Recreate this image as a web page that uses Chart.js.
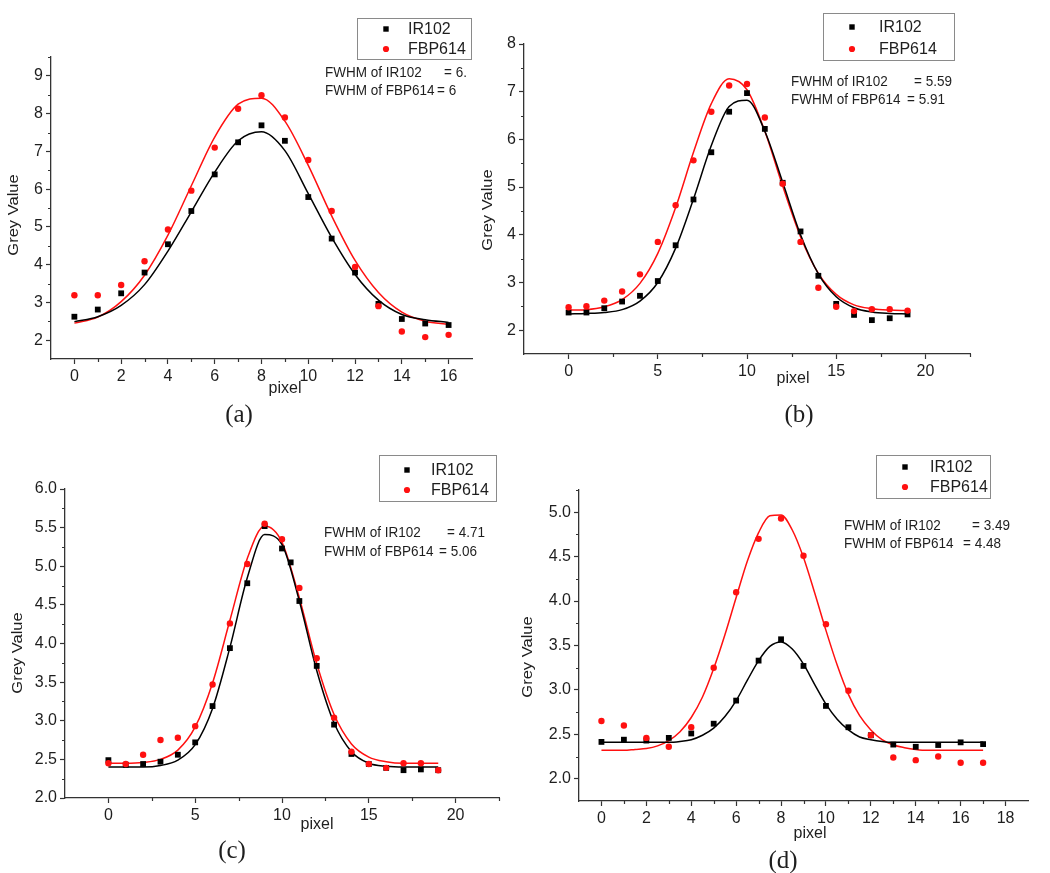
<!DOCTYPE html>
<html>
<head>
<meta charset="utf-8">
<title>Grey value profiles, IR102 vs FBP614</title>
<script src="https://cdn.jsdelivr.net/npm/chart.js@4.4.1/dist/chart.umd.min.js"></script>
<style>
  html, body { margin: 0; padding: 0; background: #fff; }
  #page { position: relative; width: 1050px; height: 873px; overflow: hidden; }
  #page canvas { position: absolute; }
</style>
</head>
<body>
<div id="page">
  <canvas id="chartA" width="505" height="440" style="left:0px;top:0px"></canvas>
  <canvas id="chartB" width="575" height="440" style="left:475px;top:0px"></canvas>
  <canvas id="chartC" width="505" height="433" style="left:0px;top:440px"></canvas>
  <canvas id="chartD" width="530" height="433" style="left:520px;top:440px"></canvas>
</div>
<script>
// ---- values ----

// (a)
const pixelA = [0, 1, 2, 3, 4, 5, 6, 7, 8, 9, 10, 11, 12, 13, 14, 15, 16];
const ir102A = [2.62, 2.81, 3.24, 3.79, 4.54, 5.42, 6.39, 7.24, 7.69, 7.28, 5.79, 4.69, 3.79, 2.96, 2.56, 2.44, 2.40];
const fbp614A = [3.19, 3.19, 3.46, 4.09, 4.93, 5.96, 7.10, 8.13, 8.49, 7.90, 6.77, 5.42, 3.94, 2.90, 2.23, 2.08, 2.14];
const fitIr102A = [2.49, 2.62, 2.92, 3.47, 4.36, 5.40, 6.45, 7.28, 7.52, 7.02, 5.88, 4.72, 3.74, 3.06, 2.68, 2.54, 2.47];
const fitFbp614A = [2.45, 2.61, 3.02, 3.72, 4.78, 6.09, 7.38, 8.25, 8.41, 7.80, 6.63, 5.29, 4.11, 3.26, 2.74, 2.50, 2.42];
const xTicksA = [0, 2, 4, 6, 8, 10, 12, 14, 16];
const xMinorA = [1, 3, 5, 7, 9, 11, 13, 15];
const yTicksA = [2, 3, 4, 5, 6, 7, 8, 9];
const yMinorA = [2.5, 3.5, 4.5, 5.5, 6.5, 7.5, 8.5, 9.5];
const fwhmA = ["FWHM of IR102", "= 6.", "FWHM of FBP614", "= 6"];

// (b)
const pixelB = [0, 1, 2, 3, 4, 5, 6, 7, 8, 9, 10, 11, 12, 13, 14, 15, 16, 17, 18, 19];
const ir102B = [2.37, 2.37, 2.46, 2.60, 2.72, 3.03, 3.78, 4.74, 5.73, 6.58, 6.97, 6.22, 5.09, 4.07, 3.14, 2.55, 2.32, 2.21, 2.25, 2.33];
const fbp614B = [2.48, 2.50, 2.62, 2.81, 3.17, 3.85, 4.62, 5.56, 6.58, 7.13, 7.16, 6.46, 5.07, 3.85, 2.89, 2.49, 2.40, 2.44, 2.44, 2.41];
const fitIr102B = [2.34, 2.35, 2.37, 2.43, 2.61, 3.00, 3.72, 4.75, 5.87, 6.69, 6.82, 6.17, 5.10, 4.00, 3.18, 2.70, 2.47, 2.38, 2.35, 2.34];
const fitFbp614B = [2.42, 2.43, 2.49, 2.64, 2.98, 3.61, 4.57, 5.73, 6.75, 7.27, 7.04, 6.17, 5.02, 3.96, 3.19, 2.75, 2.53, 2.45, 2.42, 2.41];
const xTicksB = [0, 5, 10, 15, 20];
const xMinorB = [2.5, 7.5, 12.5, 17.5, 22.5];
const yTicksB = [2, 3, 4, 5, 6, 7, 8];
const yMinorB = [2.5, 3.5, 4.5, 5.5, 6.5, 7.5];
const fwhmB = ["FWHM of IR102", "= 5.59", "FWHM of FBP614", "= 5.91"];

// (c)
const irPixelC = [0, 1, 2, 3, 4, 5, 6, 7, 8, 9, 10, 10.5, 11, 12, 13, 14, 15, 16, 17, 18, 19];
const ir102C = [2.49, 2.43, 2.44, 2.47, 2.56, 2.72, 3.19, 3.94, 4.78, 5.52, 5.23, 5.05, 4.55, 3.71, 2.95, 2.57, 2.44, 2.39, 2.36, 2.37, 2.36];
const pixelC = [0, 1, 2, 3, 4, 5, 6, 7, 8, 9, 10, 11, 12, 13, 14, 15, 16, 17, 18, 19];
const fbp614C = [2.45, 2.44, 2.56, 2.75, 2.78, 2.93, 3.47, 4.26, 5.03, 5.55, 5.35, 4.72, 3.81, 3.04, 2.60, 2.44, 2.39, 2.45, 2.45, 2.36];
const fitIr102C = [2.40, 2.40, 2.40, 2.42, 2.49, 2.69, 3.16, 3.95, 4.85, 5.41, 5.28, 4.55, 3.65, 2.97, 2.60, 2.45, 2.41, 2.40, 2.40, 2.40];
const fitFbp614C = [2.45, 2.45, 2.46, 2.50, 2.62, 2.92, 3.49, 4.30, 5.10, 5.52, 5.31, 4.59, 3.74, 3.08, 2.70, 2.53, 2.47, 2.45, 2.45, 2.45];
const xTicksC = [0, 5, 10, 15, 20];
const xMinorC = [2.5, 7.5, 12.5, 17.5, 22.5];
const yTicksC = [2.0, 2.5, 3.0, 3.5, 4.0, 4.5, 5.0, 5.5, 6.0];
const yMinorC = [2.25, 2.75, 3.25, 3.75, 4.25, 4.75, 5.25, 5.75];
const fwhmC = ["FWHM of IR102", "= 4.71", "FWHM of FBP614", "= 5.06"];

// (d)
const pixelD = [0, 1, 2, 3, 4, 5, 6, 7, 8, 9, 10, 11, 12, 13, 14, 15, 16, 17];
const ir102D = [2.415, 2.44, 2.43, 2.46, 2.51, 2.62, 2.88, 3.33, 3.57, 3.27, 2.82, 2.58, 2.49, 2.385, 2.36, 2.38, 2.41, 2.39];
const fbp614D = [2.65, 2.60, 2.46, 2.36, 2.58, 3.25, 4.10, 4.70, 4.93, 4.51, 3.74, 2.99, 2.49, 2.24, 2.21, 2.25, 2.18, 2.18];
const fitPixelD = [0, 0.5, 1, 1.5, 2, 2.5, 3, 3.5, 4, 4.5, 5, 5.5, 6, 6.5, 7, 7.5, 8, 8.5,
  9, 9.5, 10, 10.5, 11, 11.5, 12, 12.5, 13, 13.5, 14, 14.5, 15, 15.5, 16, 16.5, 17];
const fitIr102D = [2.41, 2.41, 2.41, 2.41, 2.41, 2.41, 2.41, 2.42, 2.44, 2.49, 2.57, 2.70, 2.88, 3.11, 3.33, 3.49, 3.54, 3.46,
  3.29, 3.06, 2.84, 2.67, 2.55, 2.47, 2.44, 2.42, 2.41, 2.41, 2.41, 2.41, 2.41, 2.41, 2.41, 2.41, 2.41];
const fitFbp614D = [2.32, 2.32, 2.32, 2.33, 2.34, 2.37, 2.43, 2.53, 2.69, 2.92, 3.24, 3.62, 4.04, 4.45, 4.77, 4.96, 4.97, 4.80,
  4.49, 4.09, 3.67, 3.28, 2.95, 2.71, 2.55, 2.44, 2.38, 2.35, 2.33, 2.32, 2.32, 2.32, 2.32, 2.32, 2.32];
const xTicksD = [0, 2, 4, 6, 8, 10, 12, 14, 16, 18];
const xMinorD = [1, 3, 5, 7, 9, 11, 13, 15, 17];
const yTicksD = [2.0, 2.5, 3.0, 3.5, 4.0, 4.5, 5.0];
const yMinorD = [2.25, 2.75, 3.25, 3.75, 4.25, 4.75, 5.25];
const fwhmD = ["FWHM of IR102", "= 3.49", "FWHM of FBP614", "= 4.48"];

const seriesNames = ["IR102", "FBP614"];
const axisTitles = ["Grey Value", "pixel"];

// ---- styling ----
const COLORS = {
  ir: "#000000",
  fbp: "#ff1010",
  axis: "#333333",
  text: "#1e1e1e",
  legendBorder: "#8a8a8a",
};
const SANS = "'Liberation Sans', Arial, Helvetica, sans-serif";
const SERIF = "'Liberation Serif', 'Times New Roman', serif";

const zip = (xs, ys) => xs.map((x, i) => ({ x, y: ys[i] }));

// short minor ticks between the labelled ones
const minorTicks = {
  id: "minorTicks",
  afterDraw(chart, args, opts) {
    const { ctx, chartArea, scales } = chart;
    ctx.save();
    ctx.strokeStyle = COLORS.axis;
    ctx.lineWidth = 1.2;
    ctx.beginPath();
    (opts.x || []).forEach((v) => {
      const px = Math.round(scales.x.getPixelForValue(v)) + 0.5;
      ctx.moveTo(px, chartArea.bottom);
      ctx.lineTo(px, chartArea.bottom + opts.length);
    });
    (opts.y || []).forEach((v) => {
      const py = Math.round(scales.y.getPixelForValue(v)) + 0.5;
      ctx.moveTo(chartArea.left, py);
      ctx.lineTo(chartArea.left - opts.length, py);
    });
    ctx.stroke();
    ctx.restore();
  },
};

// framed legend with marker + label rows
const boxLegend = {
  id: "boxLegend",
  afterDraw(chart, args, opts) {
    const ctx = chart.ctx;
    const [ox, oy] = opts.offset;
    const [bx, by, bw, bh] = opts.box;
    ctx.save();
    ctx.strokeStyle = COLORS.legendBorder;
    ctx.lineWidth = 1;
    ctx.strokeRect(bx - ox + 0.5, by - oy + 0.5, bw, bh);
    ctx.font = `16px ${SANS}`;
    ctx.textBaseline = "middle";
    ctx.textAlign = "left";
    opts.rows.forEach((rowY, i) => {
      const ds = chart.data.datasets[i];
      const mx = opts.markerX - ox;
      const my = rowY - oy;
      ctx.fillStyle = ds.backgroundColor;
      if (ds.pointStyle === "rect") {
        ctx.fillRect(mx - 2.7, my - 2.7, 5.4, 5.4);
      } else {
        ctx.beginPath();
        ctx.arc(mx, my, 3.1, 0, Math.PI * 2);
        ctx.fill();
      }
      ctx.fillStyle = COLORS.text;
      ctx.fillText(ds.label, opts.textX - ox, my + 1);
    });
    ctx.restore();
  },
};

// free text: axis titles, FWHM notes, panel caption
const panelText = {
  id: "panelText",
  afterDraw(chart, args, opts) {
    const ctx = chart.ctx;
    const [ox, oy] = opts.offset;
    ctx.save();
    ctx.textBaseline = "middle";
    opts.items.forEach((t) => {
      ctx.save();
      ctx.font = t.font;
      ctx.fillStyle = COLORS.text;
      ctx.textAlign = t.align || "left";
      ctx.translate(t.x - ox, t.y - oy);
      if (t.rotate) ctx.rotate(t.rotate);
      if (t.stretch) ctx.scale(t.stretch, 1);
      ctx.fillText(t.text, 0, 0);
      ctx.restore();
    });
    ctx.restore();
  },
};

function pointSet(label, xs, ys, style, color, radius, order) {
  return {
    label,
    data: zip(xs, ys),
    pointStyle: style,
    pointRadius: radius,
    pointHoverRadius: radius,
    backgroundColor: color,
    borderColor: color,
    borderWidth: 0,
    showLine: false,
    order,
  };
}

function fitSet(xs, ys, color) {
  return {
    label: "",
    data: zip(xs, ys),
    showLine: true,
    borderColor: color,
    borderWidth: 1.5,
    pointRadius: 0,
    pointHoverRadius: 0,
    cubicInterpolationMode: "monotone",
    fill: false,
    order: 5,
  };
}

function axis(range, ticks, decimals, fit) {
  return {
    type: "linear",
    min: range[0],
    max: range[1],
    afterBuildTicks: (s) => { s.ticks = ticks.map((v) => ({ value: v })); },
    afterFit: fit,
    ticks: {
      color: COLORS.text,
      font: { family: SANS, size: 16 },
      padding: 3,
      autoSkip: false,
      maxRotation: 0,
      callback: (v) => Number(v).toFixed(decimals),
    },
    grid: {
      drawOnChartArea: false,
      drawTicks: true,
      tickLength: 5,
      color: COLORS.axis,
      tickWidth: 1.2,
    },
    border: { display: true, color: COLORS.axis, width: 1.3 },
  };
}

function renderPanel(id, p) {
  const offset = [p.canvas[0], p.canvas[1]];
  const datasets = [
    pointSet(seriesNames[0], p.irX, p.ir, "rect", COLORS.ir, 4.1, 1),
    pointSet(seriesNames[1], p.fbpX, p.fbp, "circle", COLORS.fbp, 3.2, 0),
    fitSet(p.fitX, p.fitIr, COLORS.ir),
    fitSet(p.fitX, p.fitFbp, COLORS.fbp),
  ];
  const [t1, v1, t2, v2] = p.fwhm;
  const note = `15px ${SANS}`;
  const items = [
    { text: axisTitles[0], x: p.yTitle[0], y: p.yTitle[1], font: `15px ${SANS}`, align: "center", rotate: -Math.PI / 2, stretch: 1.1 },
    { text: axisTitles[1], x: p.xTitle[0], y: p.xTitle[1], font: `16px ${SANS}`, align: "center" },
    { text: p.caption, x: p.captionAt[0], y: p.captionAt[1], font: `25px ${SERIF}`, align: "center" },
    { text: t1, x: p.fwhmX, y: p.fwhmY[0], font: note, stretch: 0.9 },
    { text: v1, x: p.eqX[0], y: p.fwhmY[0], font: note, stretch: 0.9 },
    { text: t2, x: p.fwhmX, y: p.fwhmY[1], font: note, stretch: 0.9 },
    { text: v2, x: p.eqX[1], y: p.fwhmY[1], font: note, stretch: 0.9 },
  ];

  return new Chart(document.getElementById(id), {
    type: "scatter",
    data: { datasets },
    options: {
      responsive: false,
      animation: false,
      events: [],
      layout: { padding: { left: 0, top: p.padTop, right: p.padRight, bottom: 0 } },
      scales: {
        x: axis(p.xRange, p.xTicks, 0, (s) => { s.height = p.xAxisH; }),
        y: axis(p.yRange, p.yTicks, p.yDec, (s) => { s.width = p.yAxisW; }),
      },
      plugins: {
        legend: { display: false },
        tooltip: { enabled: false },
        minorTicks: { x: p.xMinor, y: p.yMinor, length: 3 },
        boxLegend: { offset, box: p.legendBox, markerX: p.legendMarkerX, textX: p.legendTextX, rows: p.legendRows },
        panelText: { offset, items },
      },
    },
    plugins: [minorTicks, boxLegend, panelText],
  });
}

renderPanel("chartA", {
  canvas: [0, 0], padTop: 57, padRight: 33, yAxisW: 51, xAxisH: 81,
  xRange: [-1, 17], yRange: [1.5, 9.5], yDec: 0,
  xTicks: xTicksA, xMinor: xMinorA, yTicks: yTicksA, yMinor: yMinorA,
  irX: pixelA, ir: ir102A, fbpX: pixelA, fbp: fbp614A,
  fitX: pixelA, fitIr: fitIr102A, fitFbp: fitFbp614A,
  legendBox: [357, 18, 114, 41], legendMarkerX: 386, legendTextX: 408, legendRows: [29, 49],
  fwhm: fwhmA, fwhmX: 325, eqX: [444, 437], fwhmY: [73, 91],
  yTitle: [14, 215], xTitle: [285, 389], caption: "(a)", captionAt: [239, 415],
});

renderPanel("chartB", {
  canvas: [475, 0], padTop: 44, padRight: 80, yAxisW: 49, xAxisH: 86,
  xRange: [-2.5, 22.5], yRange: [1.5, 8], yDec: 0,
  xTicks: xTicksB, xMinor: xMinorB, yTicks: yTicksB, yMinor: yMinorB,
  irX: pixelB, ir: ir102B, fbpX: pixelB, fbp: fbp614B,
  fitX: pixelB, fitIr: fitIr102B, fitFbp: fitFbp614B,
  legendBox: [823, 13, 131, 47], legendMarkerX: 852, legendTextX: 879, legendRows: [27, 49],
  fwhm: fwhmB, fwhmX: 791, eqX: [914, 907], fwhmY: [82, 100],
  yTitle: [488, 210], xTitle: [793, 379], caption: "(b)", captionAt: [799, 415],
});

renderPanel("chartC", {
  canvas: [0, 440], padTop: 49, padRight: 6, yAxisW: 65, xAxisH: 75,
  xRange: [-2.5, 22.5], yRange: [2, 6], yDec: 1,
  xTicks: xTicksC, xMinor: xMinorC, yTicks: yTicksC, yMinor: yMinorC,
  irX: irPixelC, ir: ir102C, fbpX: pixelC, fbp: fbp614C,
  fitX: pixelC, fitIr: fitIr102C, fitFbp: fitFbp614C,
  legendBox: [379, 455, 117, 46], legendMarkerX: 407, legendTextX: 431, legendRows: [470, 490],
  fwhm: fwhmC, fwhmX: 324, eqX: [447, 439], fwhmY: [533, 552],
  yTitle: [18, 653], xTitle: [317, 825], caption: "(c)", captionAt: [232, 851],
});

renderPanel("chartD", {
  canvas: [520, 440], padTop: 50, padRight: 22, yAxisW: 59, xAxisH: 72,
  xRange: [-1, 19], yRange: [1.75, 5.25], yDec: 1,
  xTicks: xTicksD, xMinor: xMinorD, yTicks: yTicksD, yMinor: yMinorD,
  irX: pixelD, ir: ir102D, fbpX: pixelD, fbp: fbp614D,
  fitX: fitPixelD, fitIr: fitIr102D, fitFbp: fitFbp614D,
  legendBox: [876, 455, 114, 43], legendMarkerX: 905, legendTextX: 930, legendRows: [467, 487],
  fwhm: fwhmD, fwhmX: 844, eqX: [972, 963], fwhmY: [526, 544],
  yTitle: [528, 657], xTitle: [810, 834], caption: "(d)", captionAt: [783, 861],
});
</script>
</body>
</html>
